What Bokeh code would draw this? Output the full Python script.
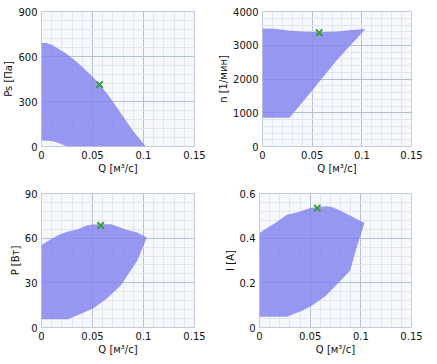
from bokeh.plotting import figure
from bokeh.layouts import column, row
from bokeh.models import FixedTicker, Range1d
from bokeh.embed import file_html
from bokeh.resources import INLINE

# ---- data ----
x_ticks = [0, 0.05, 0.1, 0.15]
x_minor = [0.01 * i for i in range(16)]
x_label = "Q [м³/с]"

# Ps [Па]
ps_up_q = [0, 0.0049, 0.01, 0.0245, 0.035, 0.05, 0.0565, 0.067, 0.08, 0.09, 0.1023]
ps_up_v = [690, 690, 678, 618, 562, 467, 418, 329, 200, 102, 0]
ps_lo_q = [0.025, 0.018, 0.01, 0]
ps_lo_v = [0, 20, 36, 40]
ps_pt = (0.057, 413)
ps_ticks = [0, 300, 600, 900]

# n [1/мин]
n_up_q = [0, 0.0125, 0.0256, 0.04, 0.05, 0.06, 0.075, 0.09, 0.1036]
n_up_v = [3500, 3490, 3440, 3410, 3400, 3390, 3410, 3450, 3480]
n_lo_q = [0.075, 0.05, 0.0272, 0]
n_lo_v = [2560, 1660, 850, 850]
n_pt = (0.057, 3370)
n_ticks = [0, 1000, 2000, 3000, 4000]

# P [Вт]
p_up_q = [0, 0.008, 0.016, 0.025, 0.035, 0.044, 0.05, 0.06, 0.068, 0.074, 0.084, 0.094, 0.1033]
p_up_v = [55.4, 58.7, 62, 64.3, 65.9, 68.5, 69.2, 69.4, 69.3, 68, 65.5, 63.8, 60.5]
p_lo_q = [0.094, 0.0775, 0.064, 0.051, 0.04, 0.026, 0]
p_lo_v = [45, 28, 19.5, 13, 9.5, 5.5, 5.5]
p_pt = (0.058, 68.5)
p_ticks = [0, 30, 60, 90]

# I [A]
i_up_q = [0, 0.009, 0.017, 0.027, 0.037, 0.05, 0.058, 0.066, 0.073, 0.085, 0.094, 0.1036]
i_up_v = [0.423, 0.45, 0.472, 0.505, 0.515, 0.535, 0.54, 0.543, 0.537, 0.512, 0.49, 0.468]
i_lo_q = [0.096, 0.0895, 0.078, 0.065, 0.0518, 0.042, 0.027, 0]
i_lo_v = [0.36, 0.255, 0.2, 0.14, 0.098, 0.075, 0.048, 0.048]
i_pt = (0.057, 0.535)
i_ticks = [0, 0.2, 0.4, 0.6]

FONT = "DejaVu Sans"
TXT = "#111111"


def make(up_q, up_v, lo_q, lo_v, pt, yticks, ylabel, ymax, w, h, bl, bt, bb, br, ylabels=None):
    p = figure(width=w, height=h, output_backend="svg", toolbar_location=None,
               x_range=Range1d(0, 0.15), y_range=Range1d(0, ymax))
    p.min_border_left = bl
    p.min_border_top = bt
    p.min_border_bottom = bb
    p.min_border_right = br
    p.background_fill_color = "#f6f8fc"
    p.border_fill_color = "white"
    p.outline_line_color = "#c3ccdb"
    step = yticks[1] - yticks[0]
    yminor = [yticks[0] + step / 5 * i for i in range(5 * (len(yticks) - 1) + 1)]
    p.xaxis.ticker = FixedTicker(ticks=x_ticks, minor_ticks=x_minor)
    p.yaxis.ticker = FixedTicker(ticks=yticks, minor_ticks=yminor)
    p.xaxis.major_label_overrides = {0: "0", 0.05: "0.05", 0.1: "0.1", 0.15: "0.15"}
    if ylabels:
        p.yaxis.major_label_overrides = ylabels
    for ax in (p.xaxis, p.yaxis):
        ax.axis_line_color = None
        ax.major_tick_line_color = None
        ax.minor_tick_line_color = None
        ax.major_tick_out = 0
        ax.major_tick_in = 0
        ax.minor_tick_out = 0
        ax.minor_tick_in = 0
        ax.major_label_text_font = FONT
        ax.major_label_text_font_size = "10px"
        ax.major_label_text_color = TXT
        ax.axis_label_text_font = FONT
        ax.axis_label_text_font_size = "10px"
        ax.axis_label_text_font_style = "normal"
        ax.axis_label_text_color = TXT
        ax.major_label_standoff = 4
        ax.axis_label_standoff = 1
    p.xaxis.axis_label = x_label
    p.yaxis.axis_label = ylabel
    p.grid.grid_line_color = "#b4c0d4"
    p.grid.grid_line_width = 1
    p.grid.minor_grid_line_color = "#e1e7f1"
    p.grid.minor_grid_line_width = 1
    xs = list(up_q) + list(lo_q)
    ys = list(up_v) + list(lo_v)
    p.patch(xs, ys, fill_color="#8080ee", fill_alpha=0.8, line_color=None)
    p.scatter([pt[0]], [pt[1]], marker="x", size=9, line_color="#3c9c3c", line_width=2)
    return p


p1 = make(ps_up_q, ps_up_v, ps_lo_q, ps_lo_v, ps_pt, ps_ticks, "Ps [Па]", 900,
          215, 182, 41, 11, 36, 21)
p2 = make(n_up_q, n_up_v, n_lo_q, n_lo_v, n_pt, n_ticks, "n [1/мин]", 4000,
          220, 182, 44, 11, 36, 24)
p3 = make(p_up_q, p_up_v, p_lo_q, p_lo_v, p_pt, p_ticks, "P [Вт]", 90,
          215, 181, 41, 11, 36, 21)
p4 = make(i_up_q, i_up_v, i_lo_q, i_lo_v, i_pt, i_ticks, "I [A]", 0.6,
          220, 181, 44, 11, 36, 24, ylabels={0: "0", 0.2: "0.2", 0.4: "0.4", 0.6: "0.6"})

layout = column(row(p1, p2), row(p3, p4))
open("out.html", "w").write(file_html(layout, INLINE))
